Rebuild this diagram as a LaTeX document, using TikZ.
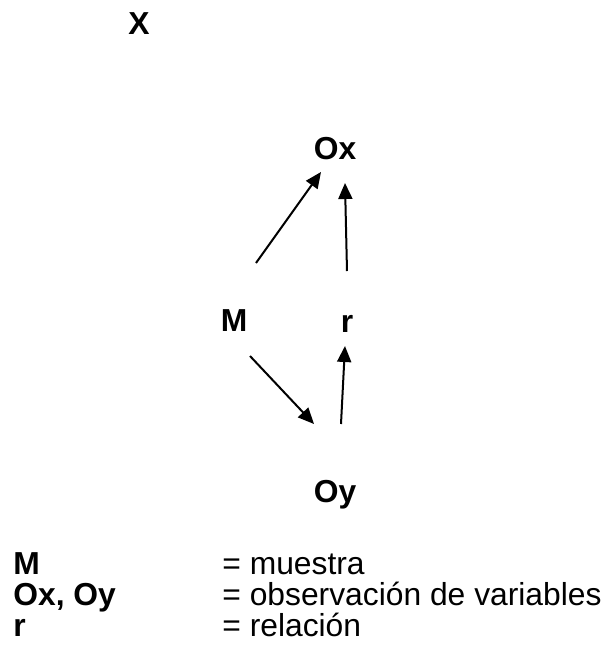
\documentclass[tikz,border=0pt]{standalone}
\usepackage{fontspec}
\setmainfont{Liberation Sans}
\usetikzlibrary{arrows.meta, positioning}
\tikzset{
    % Variable labels
    var/.style={
        font=\fontsize{15.9}{19}\selectfont\bfseries,
        inner sep=0pt,
        anchor=base
    },
    % Legend key
    legkey/.style={
        font=\fontsize{15.9}{19}\selectfont\bfseries,
        inner sep=0pt,
        anchor=base west
    },
    % Legend meaning
    legtext/.style={
        font=\fontsize{15.9}{19}\selectfont,
        inner sep=0pt,
        anchor=base west
    },
    % Arrow style
    arrow/.style={
        -{Triangle[length=8pt, width=7pt]},
        line width=1pt,
        color=black
    }
}

\begin{document}
\begin{tikzpicture}[x=0.5pt, y=-0.5pt]
        \useasboundingbox (0,0) rectangle (605,650);

        % Variables
        \node (title) [var] at (139,34) {X};
        \node (ox) [var] at (335,159) {Ox};
        \node (m) [var] at (234,331) {M};
        \node (r) [var] at (347,332) {r};
        \node (oy) [var] at (335,502) {Oy};

        % Arrow ends
        \coordinate (mUp) at (256,263);
        \coordinate (oxLeft) at (321,172);
        \coordinate (rUp) at (347,271);
        \coordinate (oxBelow) at (345,183);
        \coordinate (mDown) at (250,356);
        \coordinate (oyLeft) at (314,424);
        \coordinate (oyUp) at (341,424);
        \coordinate (rBelow) at (345,346);

        \draw [arrow] (mUp) -- (oxLeft);
        \draw [arrow] (rUp) -- (oxBelow);
        \draw [arrow] (mDown) -- (oyLeft);
        \draw [arrow] (oyUp) -- (rBelow);

        % Legend
        \node (keyM) [legkey] at (13,574) {M};
        \node (keyO) [legkey] at (13,605) {Ox, Oy};
        \node (keyR) [legkey] at (13,636) {r};
        \node (txtM) [legtext] at (222,574) {= muestra};
        \node (txtO) [legtext] at (222,605) {= observación de variables};
        \node (txtR) [legtext] at (222,636) {= relación};
    \end{tikzpicture}
\end{document}
